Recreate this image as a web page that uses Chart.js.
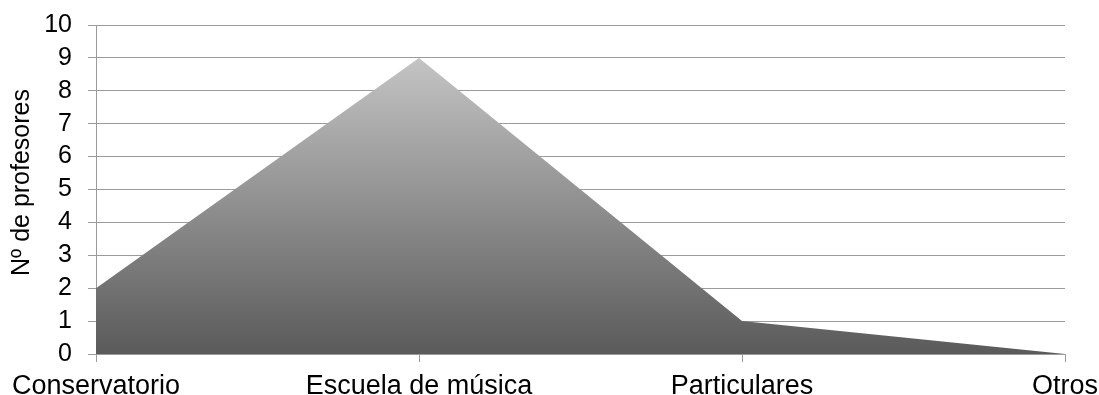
<!DOCTYPE html>
<html>
<head>
<meta charset="utf-8">
<title>Nº de profesores</title>
<script src="https://cdn.jsdelivr.net/npm/chart.js@4/dist/chart.umd.min.js"></script>
<style>
  html, body { margin: 0; padding: 0; background: #ffffff; }
  #wrap { width: 1099px; height: 395px; }
</style>
</head>
<body>
<div id="wrap"><canvas id="chart" width="1099" height="395"></canvas></div>
<script>
// Data
const categories = ['Conservatorio', 'Escuela de música', 'Particulares', 'Otros'];
const profesores = [2, 9, 1, 0];
const yTickValues = [0, 1, 2, 3, 4, 5, 6, 7, 8, 9, 10];
const yTitle = 'Nº de profesores';

const FONT = "'Liberation Sans', Arial, sans-serif";
const GRID = '#9b9b9b';

// Vertical grey gradient from the peak of the area down to the baseline
function areaGradient(context) {
  const chart = context.chart;
  const area = chart.chartArea;
  if (!area) return '#8c8c8c';
  const y = chart.scales.y;
  const top = y.getPixelForValue(Math.max(...profesores));
  const g = chart.ctx.createLinearGradient(0, top, 0, area.bottom);
  g.addColorStop(0, '#c4c4c4');
  g.addColorStop(1, '#5a5a5a');
  return g;
}

// Rotated y-axis title, placed a little above the middle of the plot area
const yTitlePlugin = {
  id: 'yTitle',
  afterDraw(chart) {
    const { ctx, chartArea } = chart;
    ctx.save();
    ctx.font = '25px ' + FONT;
    ctx.fillStyle = '#000000';
    ctx.textAlign = 'center';
    ctx.textBaseline = 'middle';
    ctx.translate(22, (chartArea.top + chartArea.bottom) / 2 - 7);
    ctx.rotate(-Math.PI / 2);
    ctx.fillText(yTitle, 0, 0);
    ctx.restore();
  }
};

new Chart(document.getElementById('chart'), {
  type: 'line',
  data: {
    labels: categories,
    datasets: [{
      data: profesores,
      fill: 'origin',
      backgroundColor: areaGradient,
      borderWidth: 0,
      borderColor: 'rgba(0,0,0,0)',
      pointRadius: 0,
      pointHoverRadius: 0,
      tension: 0
    }]
  },
  plugins: [yTitlePlugin],
  options: {
    responsive: false,
    animation: false,
    events: [],
    layout: { padding: { top: 25, right: 34, left: 0, bottom: 0 } },
    plugins: {
      legend: { display: false },
      tooltip: { enabled: false }
    },
    scales: {
      x: {
        type: 'category',
        offset: false,
        grid: {
          display: true,
          drawOnChartArea: false,
          drawTicks: true,
          tickLength: 8,
          color: GRID,
          lineWidth: 1
        },
        border: { display: true, color: GRID, width: 1 },
        ticks: {
          color: '#000000',
          font: { family: FONT, size: 27 },
          padding: 8,
          maxRotation: 0,
          minRotation: 0,
          autoSkip: false
        },
        afterFit(scale) {
          scale.height = 41;
          scale.paddingLeft = 0;
          scale.paddingRight = 0;
        }
      },
      y: {
        min: 0,
        max: 10,
        afterBuildTicks(scale) {
          scale.ticks = yTickValues.map(v => ({ value: v }));
        },
        grid: {
          display: true,
          drawOnChartArea: true,
          drawTicks: true,
          tickLength: 8,
          color: GRID,
          lineWidth: 1
        },
        border: { display: true, color: GRID, width: 1 },
        ticks: {
          color: '#000000',
          font: { family: FONT, size: 25 },
          padding: 16,
          autoSkip: false,
          stepSize: 1
        },
        title: { display: false },
        afterFit(scale) {
          scale.width = 96;
          scale.paddingTop = 0;
          scale.paddingBottom = 0;
        }
      }
    }
  }
});
</script>
</body>
</html>
